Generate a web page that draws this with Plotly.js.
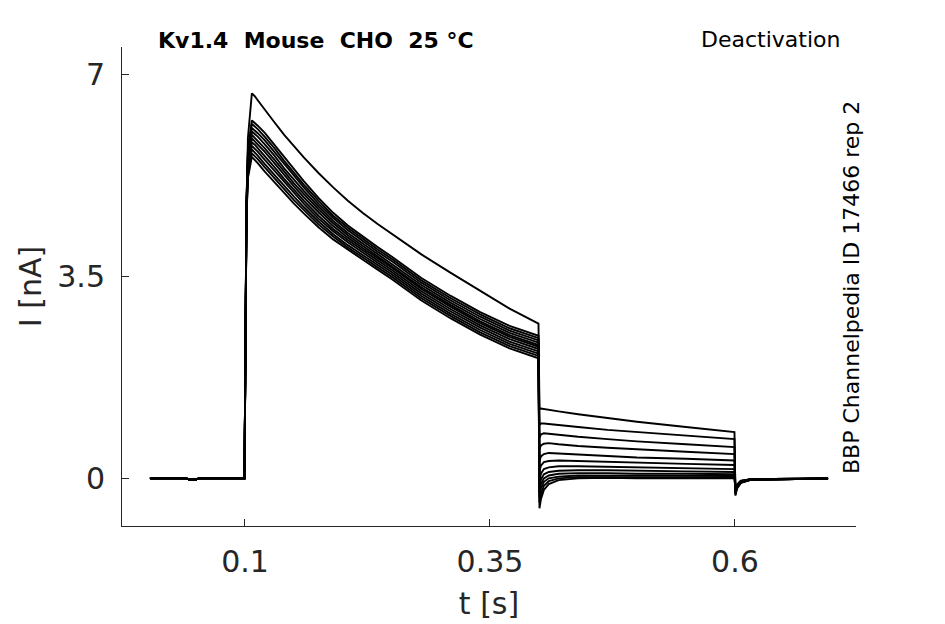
<!DOCTYPE html>
<html><head><meta charset="utf-8">
<script src="https://cdn.plot.ly/plotly-3.0.1.min.js"></script>
<style>html,body{margin:0;padding:0;background:#fff}#chart{width:945px;height:624px}</style>
</head><body><div id="chart"></div>
<script>
// time points (s) for each protocol segment
const baseT  = [0.003, 0.040, 0.043, 0.050, 0.053, 0.0995];
const baseI  = [0, 0, -0.02, -0.02, 0, 0];
const pulseT = [0.1015, 0.103, 0.107, 0.110, 0.113, 0.120, 0.130, 0.140, 0.150, 0.160, 0.175,
                0.190, 0.205, 0.220, 0.235, 0.250, 0.280, 0.310, 0.340, 0.370, 0.3995];
const deactT = [0.4005, 0.402, 0.405, 0.410, 0.420, 0.440, 0.470, 0.500, 0.550, 0.5995];
const tailT  = [0.6005, 0.602, 0.606, 0.615, 0.640, 0.695];

// currents (nA), one row per sweep
const pulseI = [
  [4.60, 5.90, 6.67, 6.62, 6.55, 6.40, 6.17, 5.95, 5.75, 5.56, 5.29, 5.04, 4.81, 4.60, 4.41, 4.23, 3.88, 3.56, 3.25, 2.94, 2.68],
  [4.80, 5.70, 6.20, 6.16, 6.11, 5.99, 5.78, 5.56, 5.35, 5.15, 4.86, 4.60, 4.38, 4.19, 4.01, 3.84, 3.47, 3.16, 2.88, 2.64, 2.47],
  [4.77, 5.65, 6.14, 6.10, 6.05, 5.92, 5.72, 5.50, 5.29, 5.09, 4.81, 4.55, 4.34, 4.15, 3.97, 3.80, 3.43, 3.12, 2.84, 2.60, 2.43],
  [4.74, 5.60, 6.07, 6.03, 5.98, 5.86, 5.65, 5.44, 5.23, 5.04, 4.76, 4.51, 4.30, 4.11, 3.93, 3.76, 3.39, 3.08, 2.80, 2.56, 2.39],
  [4.71, 5.55, 6.01, 5.97, 5.92, 5.79, 5.59, 5.37, 5.17, 4.98, 4.71, 4.46, 4.25, 4.07, 3.89, 3.72, 3.35, 3.04, 2.76, 2.52, 2.35],
  [4.68, 5.50, 5.95, 5.90, 5.85, 5.72, 5.52, 5.31, 5.11, 4.93, 4.66, 4.42, 4.21, 4.03, 3.85, 3.68, 3.31, 3.00, 2.72, 2.48, 2.31],
  [4.65, 5.45, 5.89, 5.84, 5.79, 5.66, 5.46, 5.25, 5.06, 4.87, 4.61, 4.37, 4.17, 3.99, 3.82, 3.65, 3.28, 2.97, 2.69, 2.45, 2.28],
  [4.62, 5.40, 5.82, 5.78, 5.72, 5.59, 5.39, 5.19, 5.00, 4.81, 4.55, 4.32, 4.13, 3.95, 3.78, 3.61, 3.24, 2.93, 2.65, 2.41, 2.24],
  [4.59, 5.35, 5.76, 5.71, 5.66, 5.52, 5.33, 5.13, 4.94, 4.76, 4.50, 4.28, 4.09, 3.91, 3.74, 3.57, 3.20, 2.89, 2.61, 2.37, 2.20],
  [4.56, 5.30, 5.70, 5.65, 5.59, 5.45, 5.26, 5.06, 4.88, 4.70, 4.45, 4.23, 4.04, 3.87, 3.70, 3.53, 3.16, 2.85, 2.57, 2.33, 2.16],
  [4.53, 5.25, 5.63, 5.58, 5.53, 5.39, 5.20, 5.00, 4.82, 4.65, 4.40, 4.19, 4.00, 3.83, 3.66, 3.49, 3.12, 2.81, 2.53, 2.29, 2.12],
  [4.50, 5.20, 5.57, 5.52, 5.46, 5.32, 5.13, 4.94, 4.76, 4.59, 4.35, 4.14, 3.96, 3.79, 3.62, 3.45, 3.08, 2.77, 2.49, 2.25, 2.08]
];
const deactI = [
  [1.20, 1.21, 1.20, 1.18, 1.16, 1.11, 1.04, 0.98, 0.89, 0.80],
  [0.92, 0.95, 0.95, 0.94, 0.92, 0.89, 0.84, 0.80, 0.74, 0.68],
  [0.70, 0.76, 0.78, 0.77, 0.75, 0.72, 0.68, 0.64, 0.59, 0.54],
  [0.50, 0.57, 0.60, 0.61, 0.59, 0.56, 0.53, 0.50, 0.46, 0.42],
  [0.30, 0.38, 0.42, 0.44, 0.43, 0.41, 0.38, 0.36, 0.34, 0.31],
  [0.12, 0.22, 0.28, 0.30, 0.31, 0.30, 0.28, 0.27, 0.25, 0.23],
  [-0.05, 0.08, 0.16, 0.19, 0.21, 0.21, 0.20, 0.19, 0.17, 0.16],
  [-0.15, -0.02, 0.07, 0.11, 0.13, 0.14, 0.14, 0.13, 0.12, 0.11],
  [-0.25, -0.10, 0.00, 0.05, 0.08, 0.09, 0.09, 0.08, 0.08, 0.07],
  [-0.33, -0.18, -0.06, 0.00, 0.03, 0.05, 0.05, 0.05, 0.04, 0.04],
  [-0.42, -0.27, -0.13, -0.05, 0.00, 0.02, 0.02, 0.02, 0.01, 0.01],
  [-0.52, -0.36, -0.20, -0.10, -0.03, 0.00, 0.01, 0.00, 0.00, 0.00]
];
const tailI = [
  [-0.30, -0.18, -0.08, -0.03, -0.01, 0.00],
  [-0.28, -0.17, -0.08, -0.03, -0.02, 0.00],
  [-0.27, -0.16, -0.07, -0.02, -0.01, -0.01],
  [-0.26, -0.15, -0.07, -0.03, -0.02, 0.00],
  [-0.25, -0.15, -0.06, -0.02, -0.01, 0.00],
  [-0.24, -0.14, -0.06, -0.02, -0.02, -0.01],
  [-0.23, -0.13, -0.06, -0.03, -0.01, 0.00],
  [-0.22, -0.13, -0.05, -0.02, -0.02, 0.00],
  [-0.21, -0.12, -0.05, -0.02, -0.01, -0.01],
  [-0.20, -0.12, -0.05, -0.03, -0.02, 0.00],
  [-0.20, -0.11, -0.05, -0.02, -0.01, 0.00],
  [-0.19, -0.11, -0.04, -0.02, -0.01, 0.00]
];

const xTickVals = [0.1, 0.35, 0.6];
const xTickText = ['0.1', '0.35', '0.6'];
const yTickVals = [0, 3.5, 7];
const yTickText = ['0', '3.5', '7'];

const titleText = 'Kv1.4  Mouse  CHO  25 °C';
const protocolText = 'Deactivation';
const idText = 'BBP Channelpedia ID 17466 rep 2';

const tAll = baseT.concat(pulseT, deactT, tailT);
const traces = pulseI.map((p, k) => ({
  type: 'scatter', mode: 'lines',
  x: tAll,
  y: baseI.concat(p, deactI[k], tailI[k]),
  line: {color: '#000', width: 1.9},
  hoverinfo: 'skip', showlegend: false
}));

const axCol = '#262626';
const font = 'DejaVu Sans, sans-serif';
const layout = {
  width: 945, height: 624,
  margin: {l: 122, r: 89, t: 47, b: 98},
  paper_bgcolor: '#fff', plot_bgcolor: '#fff',
  showlegend: false,
  xaxis: {
    range: [-0.0255, 0.7235], tickvals: xTickVals, ticktext: xTickText,
    ticks: 'inside', ticklen: 7, tickcolor: axCol, tickwidth: 1,
    showline: true, linecolor: axCol, linewidth: 1, mirror: false,
    showgrid: false, zeroline: false,
    tickfont: {family: font, size: 30, color: axCol},
    ticklabelstandoff: 9,
    title: {text: 't [s]', font: {family: font, size: 30, color: axCol}, standoff: 14}
  },
  yaxis: {
    range: [-0.826, 7.473], tickvals: yTickVals, ticktext: yTickText,
    ticks: 'inside', ticklen: 7, tickcolor: axCol, tickwidth: 1,
    showline: true, linecolor: axCol, linewidth: 1, mirror: false,
    showgrid: false, zeroline: false,
    tickfont: {family: font, size: 30, color: axCol},
    ticklabelstandoff: 10,
    title: {text: 'I [nA]', font: {family: font, size: 30, color: axCol}, standoff: 6}
  },
  annotations: [
    {text: '<b>' + titleText + '</b>', xref: 'paper', yref: 'paper', x: 0.047, y: 1.0146,
     xanchor: 'left', yanchor: 'middle', showarrow: false,
     font: {family: font, size: 22, color: '#000'}},
    {text: protocolText, xref: 'paper', yref: 'paper', x: 0.981, y: 1.0167,
     xanchor: 'right', yanchor: 'middle', showarrow: false,
     font: {family: font, size: 22, color: '#000'}},
    {text: idText, xref: 'paper', yref: 'paper', x: 0.993, y: 0.4987,
     xanchor: 'center', yanchor: 'middle', showarrow: false, textangle: -90,
     font: {family: font, size: 22, color: '#000'}}
  ]
};

Plotly.newPlot('chart', traces, layout, {displayModeBar: false, staticPlot: true});
</script>
</body></html>
